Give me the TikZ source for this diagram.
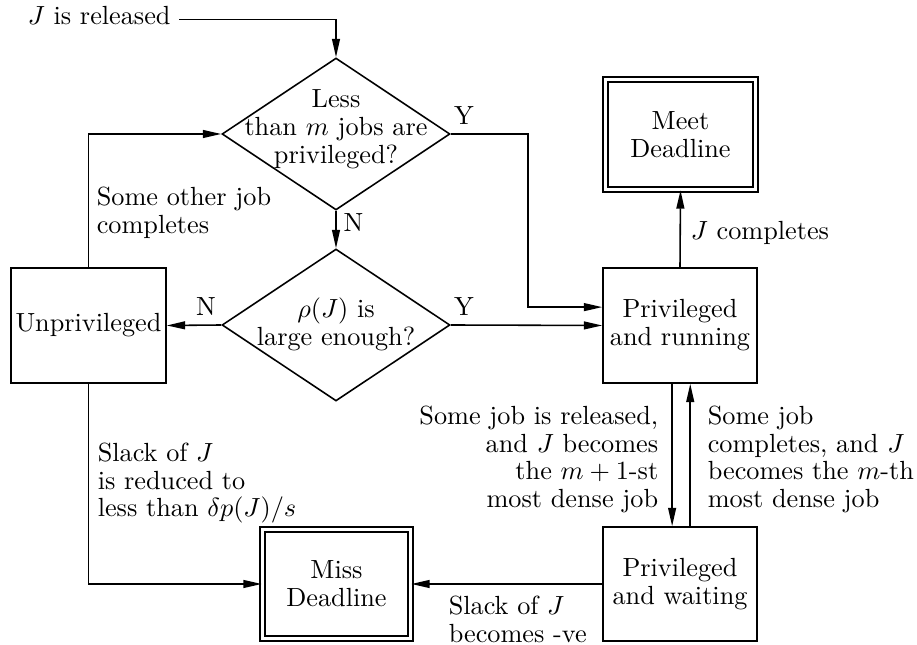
\documentclass[tikz,border=0pt]{standalone}
\usetikzlibrary{shapes.geometric,arrows.meta,calc}
\def\px{0.381pt}
\begin{document}
\begin{tikzpicture}[x=\px, y=-\px, line width=0.6pt,
  every node/.style={font=\fontsize{10pt}{10.6pt}\selectfont, inner sep=0pt},
  arr/.style={-{Triangle[length=7pt,width=3pt]}},
  box/.style={draw, rectangle, align=center},
  dbox/.style={draw, double, double distance=1.2pt, rectangle, align=center},
  dia/.style={draw, diamond, minimum width=228*\px, minimum height=152*\px}]
\useasboundingbox (0,0) rectangle (917,645);

% nodes
\node[anchor=base west] (rel) at (27,25) {$J$ is released};
\node[dia] (d1) at (336,134) {};
\node[align=center] (d1t) at (336,129) {Less\\than $m$ jobs are\\privileged?};
\node[dia] (d2) at (336,325) {};
\node[align=center] (d2t) at (336,324) {$\rho(J)$ is\\large enough?};
\node[box, minimum width=155*\px, minimum height=115*\px] (up) at (88.5,325.5) {\raisebox{2.5pt}{Unprivileged}};
\node[box, minimum width=154*\px, minimum height=115*\px] (pr) at (680,325.5) {Privileged\\and running};
\node[dbox, minimum width=150*\px, minimum height=110*\px] (md) at (680.5,134.5) {Meet\\Deadline};
\node[box, minimum width=154*\px, minimum height=114*\px] (pw) at (680,584) {Privileged\\and waiting};
\node[dbox, minimum width=148*\px, minimum height=109*\px] (miss) at (336.5,584) {Miss\\Deadline};

% connectors
\draw[arr] (rel.mid east) ++(8,0) -| (d1.north);
\draw[arr] (d1.south) -- (d2.north) node[pos=0.32, anchor=west, xshift=2.6pt] (n1) {N};
\draw[arr] (d1.east) -- ++(77,0) |- ([yshift=7pt]pr.west);
\node[anchor=south west, xshift=1pt, yshift=3.2pt] (y1) at (d1.east) {Y};
\draw[arr] (d2.east) -- (pr.west);
\node[anchor=south west, xshift=1pt, yshift=3.3pt] (y2) at (d2.east) {Y};
\draw[arr] (d2.west) -- (up.east);
\node[anchor=south east, xshift=-1.8pt, yshift=3.3pt] (n2) at (d2.west) {N};
\draw[arr] (up.north) |- (d1.west);
\node[align=left, anchor=north west] (l0) at (96,186) {Some other job\\completes};
\draw[arr] (pr.north) -- (md.south);
\node[anchor=base west] (lc) at (690,240) {$J$ completes};
\draw[arr] ([xshift=-3pt]pr.south) -- ([xshift=-3pt]pw.north);
\draw[arr] ([xshift=3.9pt]pw.north) -- ([xshift=3.9pt]pr.south);
\node[align=right, anchor=north east] (l1) at (659,405) {Some job is released,\\and $J$ becomes\\the $m+1$-st\\most dense job};
\node[align=left, anchor=north west] (l2) at (707,405) {Some job\\completes, and $J$\\becomes the $m$-th\\most dense job};
\draw[arr] (up.south) |- (miss.west);
\node[align=left, anchor=north west] (l3) at (97,442) {Slack of $J$\\is reduced to\\less than $\delta p(J)/s$};
\draw[arr] (pw.west) -- (miss.east);
\node[align=left, anchor=north west] (l4) at (448,595) {Slack of $J$\\becomes -ve};
\end{tikzpicture}
\end{document}
